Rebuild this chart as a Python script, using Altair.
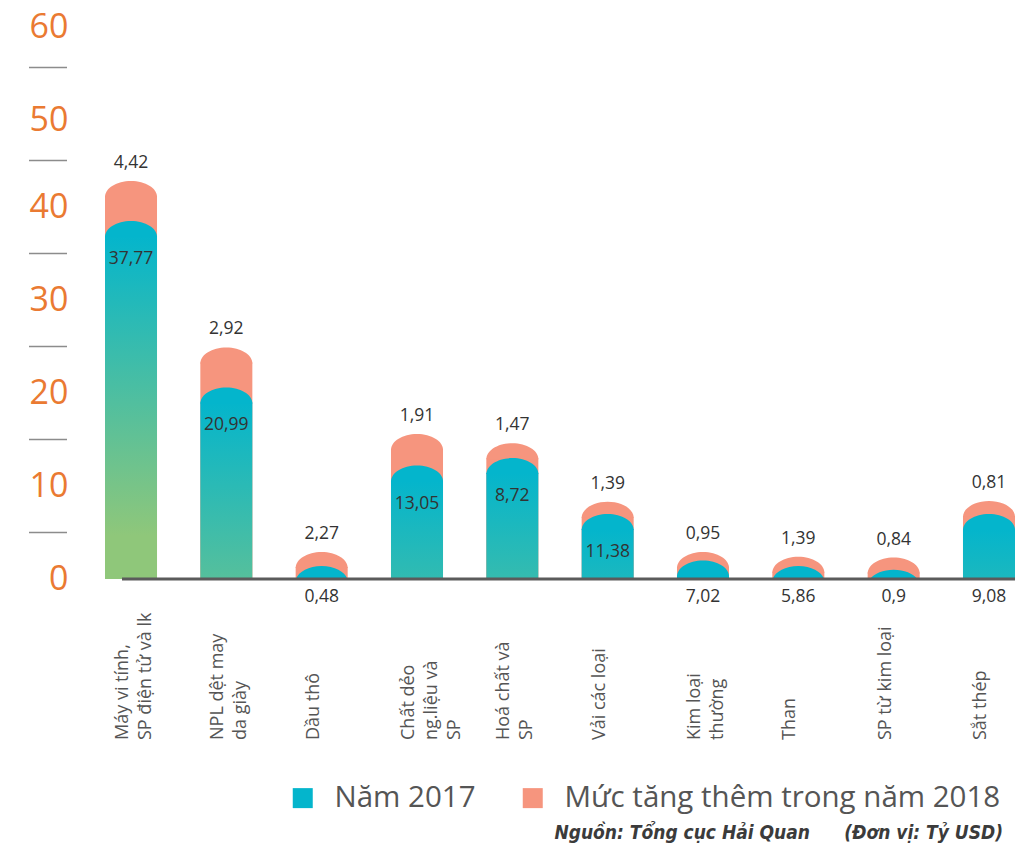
import altair as alt
import pandas as pd

# ---------------- data ----------------
categories = [
    "Máy vi tính,\nSP điện tử và lk",
    "NPL dệt may\nda giày",
    "Dầu thô",
    "Chất dẻo\nng.liệu và\nSP",
    "Hoá chất và\nSP",
    "Vải các loại",
    "Kim loại\nthường",
    "Than",
    "SP từ kim loại",
    "Sắt thép",
]
# drawn heights (top of the rounded cap), in tỷ USD
height_2017 = [38.5, 20.6, 1.4, 12.2, 13.0, 7.0, 2.0, 1.4, 1.0, 7.0]
height_2018_total = [42.8, 24.9, 2.9, 15.6, 14.6, 8.3, 2.9, 2.4, 2.3, 8.4]
# printed value labels
label_2017 = ["37,77", "20,99", "0,48", "13,05", "8,72", "11,38", "7,02", "5,86", "0,9", "9,08"]
label_increase = ["4,42", "2,92", "2,27", "1,91", "1,47", "1,39", "0,95", "1,39", "0,84", "0,81"]
label_2017_inside = [True, True, False, True, True, True, False, False, False, False]

y_tick_values = [0, 10, 20, 30, 40, 50, 60]
y_minor_marks = [5, 15, 25, 35, 45, 55]
series_names = ["Năm 2017", "Mức tăng thêm trong năm 2018"]
source_text = "Nguồn: Tổng cục Hải Quan"
unit_text = "(Đơn vị: Tỷ USD)"

# ---------------- style ----------------
FONT = "Open Sans"
COND = "Liberation Sans Narrow, DejaVu Sans Condensed, Roboto"
CYAN = "#04b5cc"
GREEN = "#8fc77a"
PINK = "#f6957e"
ORANGE = "#ea7a32"
GREY = "#555555"
DARK = "#333333"

W, H = 910, 558
Y_MAX = 60
PX = H / Y_MAX
CAP = 16          # cap height in px
BAR_W = 52
GRAD_LEN = 300    # px over which the bar goes cyan -> green

df = pd.DataFrame({
    "cat": categories,
    "blue": height_2017,
    "total": height_2018_total,
    "lab17": label_2017,
    "labinc": label_increase,
    "inside": label_2017_inside,
    "zero": [0] * len(categories),
})

xenc = alt.X("cat:N", sort=categories,
             scale=alt.Scale(paddingInner=0.4544, paddingOuter=0),
             axis=None)
yscale = alt.Scale(domain=[0, Y_MAX], nice=False)
yaxis = alt.Axis(values=y_tick_values, title=None, domain=False, ticks=False, grid=False,
                 labelFontSize=34, labelColor=ORANGE, labelFont=FONT, labelPadding=37,
                 labelOffset={"condition": {"test": "datum.value >= 50", "value": 6}, "value": 0})


def Y(field):
    return alt.Y(field, type="quantitative", scale=yscale, axis=yaxis)


legend = alt.Legend(title=None, orient="none", legendX=183, legendY=762, direction="horizontal",
                    symbolType="square", symbolSize=400, labelFontSize=29.5, labelColor=GREY,
                    labelFont=FONT, labelOffset=17, columnPadding=42, symbolStrokeWidth=0,
                    padding=0, labelLimit=700)
color_scale = alt.Scale(domain=series_names, range=[CYAN, PINK])

DOME = "M-1,0.615 C-1,0.275 -0.552,0 0,0 C0.552,0 1,0.275 1,0.615 Z"

base = alt.Chart(df)

pink_rect = base.mark_bar(color=PINK, yOffset=CAP - 1, clip=True).encode(
    x=xenc, y=Y("total"), y2=alt.Y2("zero"))
pink_dome = base.transform_calculate(series=f"'{series_names[1]}'").mark_point(
    shape=DOME, size=BAR_W ** 2, filled=True, opacity=1, strokeWidth=0, clip=True).encode(
    x=xenc, y=Y("total"), color=alt.Color("series:N", scale=color_scale, legend=legend))

blue_rects = []
for cat, v in zip(categories, height_2017):
    h = v * PX - (CAP - 1)
    if h <= 0:
        continue
    g = alt.LinearGradient(gradient="linear",
                           stops=[alt.GradientStop(color=CYAN, offset=0),
                                  alt.GradientStop(color=GREEN, offset=1)],
                           x1=0, x2=0, y1=0, y2=GRAD_LEN / h)
    blue_rects.append(
        alt.Chart(df[df["cat"] == cat]).mark_bar(color=g, yOffset=CAP - 1, clip=True).encode(
            x=xenc, y=Y("blue"), y2=alt.Y2("zero")))

blue_dome = base.transform_calculate(series=f"'{series_names[0]}'").mark_point(
    shape=DOME, size=BAR_W ** 2, filled=True, opacity=1, strokeWidth=0, clip=True).encode(
    x=xenc, y=Y("blue"), color=alt.Color("series:N", scale=color_scale, legend=legend))

baseline = alt.Chart(pd.DataFrame({"v": [0]})).mark_rule(color="#5b5b5b", strokeWidth=3).encode(
    y=Y("v"), x=alt.value(17), x2=alt.value(W))

minor = alt.Chart(pd.DataFrame({"v": y_minor_marks})).mark_rule(color="#8c8c8c", strokeWidth=1.6).encode(
    y=Y("v"), x=alt.value(-76), x2=alt.value(-38))

txt = dict(font=FONT, fontSize=17.5, color=DARK)
inc_labels = base.mark_text(baseline="bottom", dy=-9, **txt).encode(
    x=xenc, y=Y("total"), text="labinc:N")
in_labels = base.transform_filter("datum.inside").mark_text(baseline="middle", dy=38, **txt).encode(
    x=xenc, y=Y("blue"), text="lab17:N")
out_labels = base.transform_filter("!datum.inside").mark_text(baseline="middle", dy=18, **txt).encode(
    x=xenc, y=Y("zero"), text="lab17:N")

cat_labels = base.mark_text(angle=270, align="left", baseline="top", lineBreak="\n", lineHeight=23,
                            fontSize=18, font=FONT, color=GREY, dy=-17).encode(
    x=xenc, y=alt.value(719), text="cat:N")

src = pd.DataFrame({"a": [source_text], "b": [unit_text]})
src_style = dict(align="right", baseline="middle", font=COND, fontStyle="italic",
                 fontWeight="bold", fontSize=19, color="#3b3b3b")
src_left = alt.Chart(src).mark_text(**src_style).encode(
    x=alt.value(705), y=alt.value(812), text="a:N")
src_right = alt.Chart(src).mark_text(**src_style).encode(
    x=alt.value(898), y=alt.value(812), text="b:N")

chart = alt.layer(
    pink_rect, pink_dome, *blue_rects, blue_dome, baseline, minor,
    inc_labels, in_labels, out_labels, cat_labels, src_left, src_right
).properties(
    width=W, height=H,
    autosize=alt.AutoSizeParams(type="none"),
    padding={"left": 97, "top": 13, "right": 0, "bottom": 264},
).configure_view(stroke=None)

chart.save("out.html", embed_options={"renderer": "svg", "actions": False})
